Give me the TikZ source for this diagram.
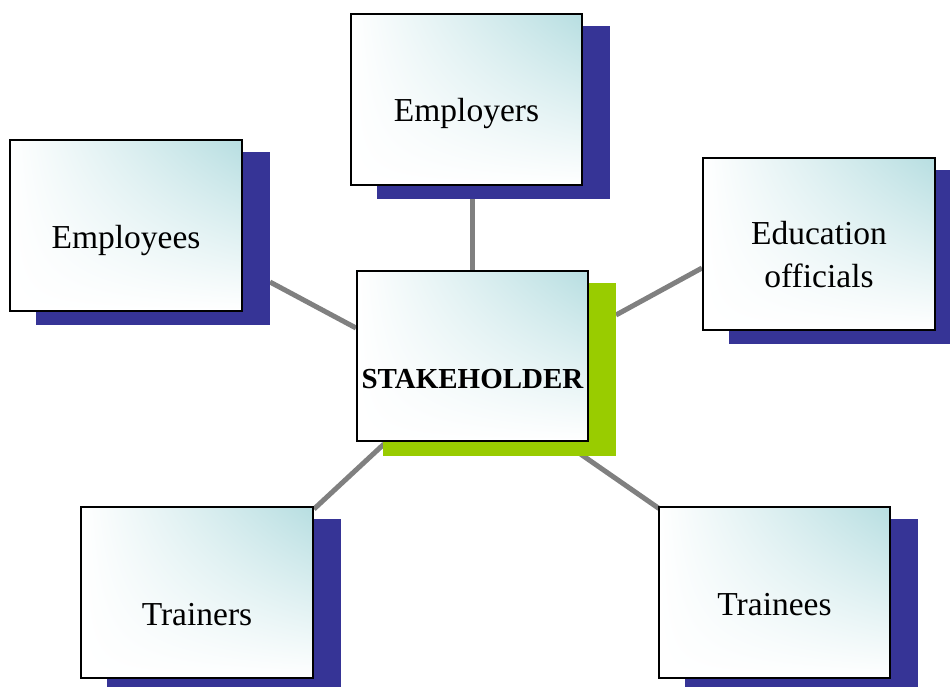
\documentclass[tikz,border=0pt]{standalone}
\usepackage{fontspec}
\setmainfont{Liberation Serif}
\usetikzlibrary{calc,backgrounds,shadings}
\definecolor{shadowblue}{RGB}{54,52,150}
\definecolor{shadowgreen}{RGB}{153,204,0}
\definecolor{tealtop}{RGB}{183,222,225}
\definecolor{linkgray}{RGB}{128,128,128}
\tikzset{
  box/.style={draw=black, line width=2pt, rectangle, inner sep=0pt,
    minimum width=231pt, minimum height=171pt,
    upper right=tealtop, upper left=white, lower left=white, lower right=white},
  lbl/.style={font=\fontsize{33.5}{43}\selectfont, anchor=base, align=center, inner sep=0pt},
  boldlbl/.style={font=\fontsize{29}{34}\selectfont\bfseries, anchor=base, inner sep=0pt},
  link/.style={draw=linkgray, line width=5pt}
}
\begin{document}
\begin{tikzpicture}[x=1pt,y=-1pt]
\useasboundingbox (0,0) rectangle (950,687);
% boxes
\node[box] (employers) at (466.5,99.5) {};
\node[box, minimum width=232pt] (employees) at (126,225.5) {};
\node[box, minimum width=232pt, minimum height=172pt] (education) at (819,244) {};
\node[box, minimum height=170pt] (stake) at (472.5,356) {};
\node[box, minimum width=232pt] (trainers) at (197,592.5) {};
\node[box] (trainees) at (774.5,592) {};
% labels
\node[lbl] (employers-t) at ($(employers.center)+(0,22.5)$) {Employers};
\node[lbl] (employees-t) at ($(employees.center)+(0,22.5)$) {Employees};
\node[lbl] (education-t) at ($(education.center)+(0,43)$) {Education\\officials};
\node[boldlbl] (stake-t) at ($(stake.center)+(0,32)$) {STAKEHOLDER};
\node[lbl] (trainers-t) at ($(trainers.center)+(0,32.5)$) {Trainers};
\node[lbl] (trainees-t) at ($(trainees.center)+(0,23)$) {Trainees};
\begin{scope}[on background layer]
  % connectors
  \draw[link] (stake.north |- employers.south) -- (stake.north);
  \draw[link] ($(employees.east)+(27,56.5)$) -- ($(stake.west)+(0,-28)$);
  \draw[link] ($(education.west)+(0,24)$) -- ($(stake.east)+(27,-41)$);
  \draw[link] ($(trainers.north east)+(0,3)$) -- ($(stake.south west)+(28,2)$);
  \draw[link] ($(stake.south east)+(-10,11)$) -- ($(trainees.north west)+(1,3)$);
  % shadows
  \foreach \n in {employers,employees,education,trainers,trainees}{
    \fill[shadowblue] ($(\n.north west)+(27,13)$) rectangle ($(\n.south east)+(27,13)$);
  }
  \fill[shadowgreen] ($(stake.north west)+(27,13)$) rectangle ($(stake.south east)+(27,14)$);
\end{scope}
\end{tikzpicture}
\end{document}
